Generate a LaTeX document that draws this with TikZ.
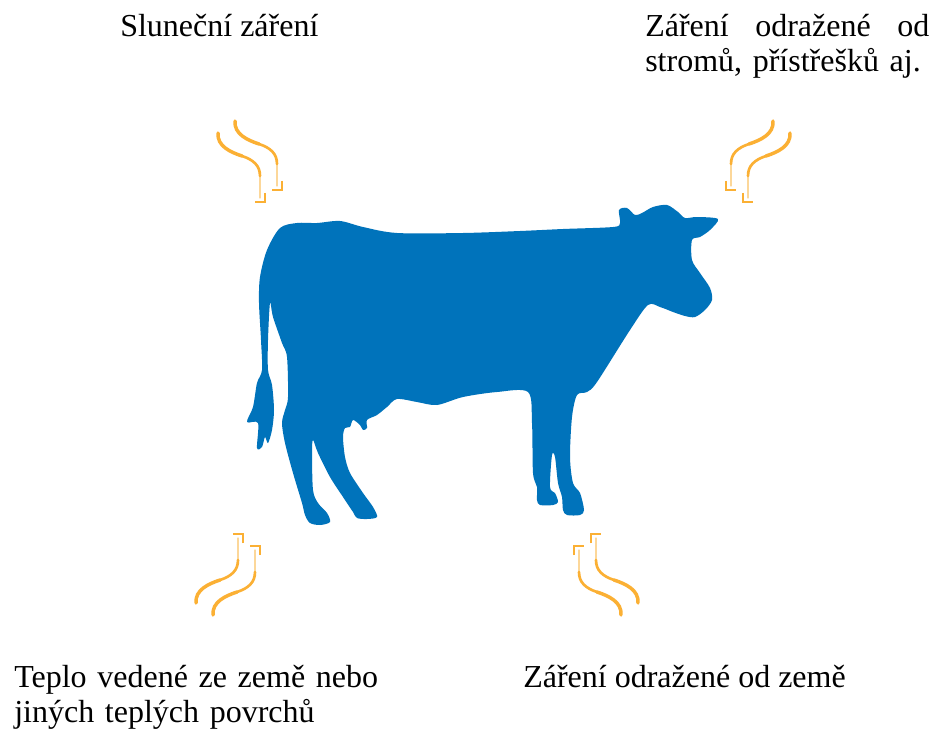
\documentclass[tikz,border=0pt]{standalone}
\usepackage{fontspec}
\setmainfont{Liberation Serif}
\usepackage{xcolor}
\usetikzlibrary{positioning, calc}
\definecolor{cowblue}{HTML}{0073BB}
\definecolor{heatorange}{HTML}{FBB034}

\tikzset{
  label/.style={inner sep=0pt, font=\fontsize{24}{26.25}\selectfont},
  wave/.style={draw=heatorange, line cap=round, line join=round}
}

% one squiggly heat arrow, pointing down
\newcommand{\heatarrow}{
  \draw[wave, line width=2.6pt] (-32,-27) .. controls (-33,-14) and (-20,-8) .. (-8,-4);
  \draw[wave, line width=2pt] (-8,-4) .. controls (4,0) and (10,6) .. (10,16);
  \draw[wave, line width=0.9pt, draw opacity=.5] (10,16) -- (10,38);
  \draw[wave, line width=1.5pt, line cap=butt, line join=miter] (15,33) |- (5,42);
}
% two of them side by side
\newcommand{\heatpair}[1]{
  \begin{scope}[#1]
    \heatarrow
    \begin{scope}[shift={(17,-12)}] \heatarrow \end{scope}
  \end{scope}
}

\begin{document}
\begin{tikzpicture}[x=0.75pt, y=-0.75pt]
  \useasboundingbox[fill=white] (0,0) rectangle (935,731);

  % labels
  \node[label, anchor=base west] (sunlabel) at (120,37) {Sluneční záření};
  \node[label, anchor=base west, text width=213pt, align=left] (treeslabel) at (645,37)
    {Záření \hfill odražené \hfill od\\stromů, přístřešků aj.};
  \node[label, anchor=base west, text width=280pt, align=left] (groundheatlabel) at (14,687)
    {Teplo vedené ze země nebo\\jiných teplých povrchů};
  \node[label, anchor=base west] (groundlabel) at (523,687) {Záření odražené od země};

  % heat arrows
  \heatpair{shift={(250,160)}}
  \heatpair{shift={(758,160)}, xscale=-1}
  \heatpair{shift={(228,576)}, yscale=-1}
  \heatpair{shift={(606,576)}, xscale=-1, yscale=-1}

  % cow
  \fill[cowblue] plot[smooth cycle, tension=0.5] coordinates {
    (280,228) (297,223) (317,223) (340,221) (363,227) (397,233) (463,233)
    (520,231) (563,229) (613,227) (620,223) (619,210) (627,208) (635,215)
    (642,213) (653,207) (667,205) (678,212) (685,218) (697,217) (718,219)
    (710,230) (700,237) (692,240) (692,260) (700,273) (710,288) (712,300)
    (705,310) (695,317) (685,316) (673,312) (660,307) (648,305) (630,330)
    (597,382) (587,392) (577,395) (572,417) (570,457) (573,483) (580,493)
    (584,510) (580,515) (567,515) (563,510) (562,497) (558,483) (555,457)
    (552,455) (550,487) (555,493) (558,502) (553,505) (540,505) (537,500)
    (537,487) (533,473) (532,423) (528,392) (497,392) (463,397) (437,405)
    (417,402) (397,399) (387,407) (377,415) (367,420) (367,428) (363,430)
    (360,425) (353,420) (350,427) (345,428) (343,437) (345,457) (350,473)
    (363,493) (373,507) (377,517) (367,519) (357,518) (353,512) (343,497)
    (330,477) (318,453) (313,440) (312,453) (313,490) (318,503) (327,513)
    (330,522) (320,525) (310,523) (305,515) (302,503) (293,473) (285,443)
    (282,423) (285,410) (288,397) (287,357) (282,343) (273,317) (270,303)
    (268,340) (268,370) (272,385) (274,410) (272,430) (268,443) (265,437)
    (262,447) (257,448) (258,423) (247,422) (253,407) (257,383) (262,370)
    (261,340) (259,303) (260,277) (267,250)};
\end{tikzpicture}
\end{document}
